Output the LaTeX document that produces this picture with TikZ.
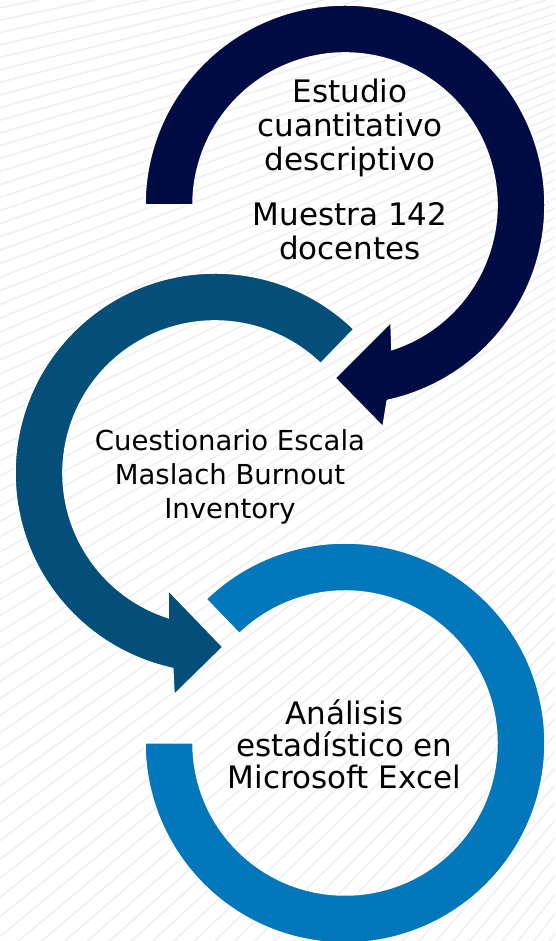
\documentclass[tikz,border=0pt]{standalone}
\usepackage{fontspec}
\setmainfont{DejaVu Sans}
\usetikzlibrary{calc}

\definecolor{navyarc}{HTML}{010C44}
\definecolor{tealarc}{HTML}{034F7A}
\definecolor{bluearc}{HTML}{0277BB}
\definecolor{stripe}{HTML}{EFF0F4}

\begin{document}
\begin{tikzpicture}[x=1pt, y=1pt]
    \tikzstyle{ring} = [draw=white, line width=1.5pt]
    \tikzstyle{steptext} = [align=center, inner sep=0pt, anchor=north, text=black]

    \useasboundingbox (0, 0) rectangle (555, 941);
    \fill[white] (0, 0) rectangle (555, 941);

    % faint stripes behind
    \begin{scope}
        \clip (0, 0) rectangle (555, 941);
        \foreach \a in {188, 188.45, ..., 236}
            \draw[stripe, line width=1.6pt] (1500, 1241) -- ++(\a:2700);
    \end{scope}

    \coordinate (c1) at (345, 736);
    \coordinate (c2) at (215, 468);
    \coordinate (c3) at (345, 198);

    % last step, no head
    \fill[bluearc, ring] ($(c3) + (134:200)$) arc[start angle=134, end angle=-180, radius=200]
        -- ($(c3) + (180:152)$) arc[start angle=-180, end angle=134, radius=152] -- cycle;

    \fill[tealarc, ring] ($(c2) + (46:200)$) arc[start angle=46, end angle=257.8, radius=200]
        -- ($(c2) + (-41, -222)$) -- ($(c2) + (8, -174)$) -- ($(c2) + (-47, -117)$)
        -- ($(c2) + (252:152)$) arc[start angle=252, end angle=46, radius=152] -- cycle;

    \fill[navyarc, ring] ($(c1) + (180:200)$) arc[start angle=180, end angle=-77.8, radius=200]
        -- ($(c1) + (38, -222)$) -- ($(c1) + (-10, -173)$) -- ($(c1) + (46, -117)$)
        -- ($(c1) + (-72:152)$) arc[start angle=-72, end angle=180, radius=152] -- cycle;

    \node[steptext, font=\fontsize{31}{34}\selectfont] (t1) at (350, 862)
        {Estudio\\cuantitativo\\descriptivo\\[21pt]Muestra 142\\docentes};
    \node[steptext, font=\fontsize{27.5}{34}\selectfont] (t2) at (230, 512)
        {Cuestionario Escala\\Maslach Burnout\\Inventory};
    \node[steptext, font=\fontsize{31}{32}\selectfont] (t3) at (344.5, 241)
        {Análisis\\estadístico en\\Microsoft Excel};

\end{tikzpicture}
\end{document}
